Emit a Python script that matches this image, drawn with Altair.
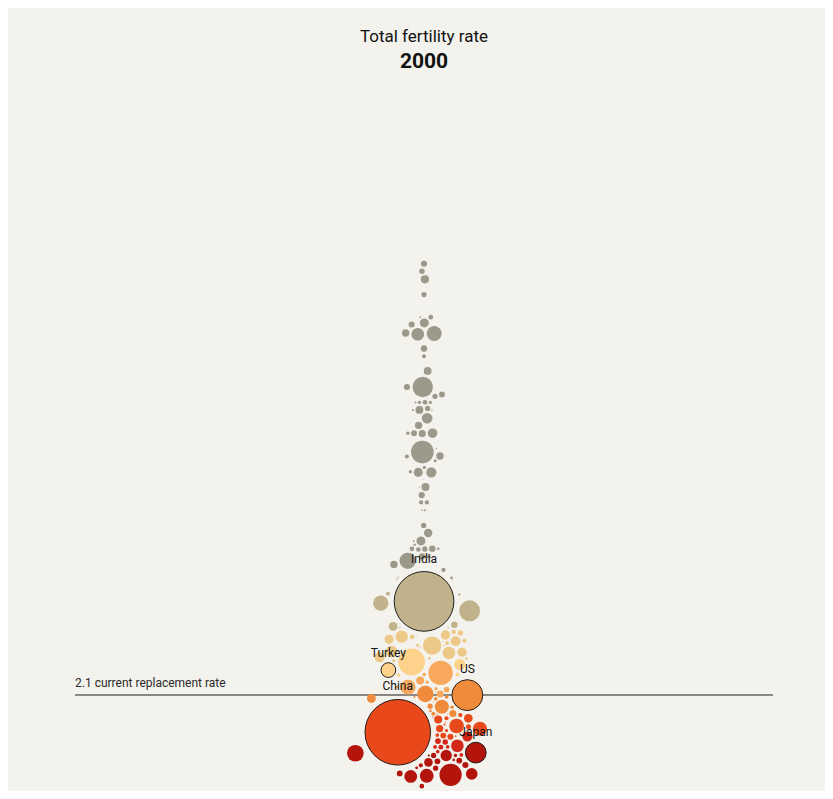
import math
import numpy as np
import pandas as pd
import altair as alt

# ---------------- data (approximate 2000 values) ----------------
countries = [
    "China", "India", "Indonesia", "Pakistan", "Bangladesh", "Japan", "Philippines", "Vietnam",
    "Thailand", "Myanmar", "South Korea", "North Korea", "Afghanistan", "Nepal", "Sri Lanka",
    "Malaysia", "Uzbekistan", "Kazakhstan", "Iran", "Iraq", "Saudi Arabia", "Yemen", "Syria",
    "Turkey", "Cambodia", "Laos", "Mongolia", "Taiwan", "Hong Kong", "Singapore", "Israel",
    "Jordan", "Lebanon", "Kuwait", "UAE", "Oman", "Qatar", "Bahrain", "Tajikistan", "Kyrgyzstan",
    "Turkmenistan", "Azerbaijan", "Georgia", "Armenia", "Bhutan", "Timor-Leste", "Palestine",
    "Maldives", "Brunei",
    "Nigeria", "Ethiopia", "Egypt", "DR Congo", "South Africa", "Tanzania", "Sudan", "Kenya",
    "Algeria", "Morocco", "Uganda", "Ghana", "Mozambique", "Madagascar", "Cote d'Ivoire",
    "Cameroon", "Angola", "Burkina Faso", "Niger", "Mali", "Malawi", "Zambia", "Zimbabwe",
    "Senegal", "Chad", "Somalia", "Guinea", "Rwanda", "Tunisia", "Burundi", "Benin", "Togo",
    "Sierra Leone", "Libya", "Eritrea", "Central African Rep.", "Liberia", "Mauritania", "Congo",
    "Namibia", "Botswana", "Lesotho", "Gambia", "Guinea-Bissau", "Gabon", "Mauritius", "Eswatini",
    "Equatorial Guinea", "Djibouti", "Comoros", "Cape Verde", "Sao Tome", "Seychelles",
    "Russia", "Germany", "Britain", "France", "Italy", "Ukraine", "Spain", "Poland", "Romania",
    "Netherlands", "Greece", "Belgium", "Czechia", "Portugal", "Hungary", "Belarus", "Sweden",
    "Serbia", "Austria", "Bulgaria", "Switzerland", "Denmark", "Slovakia", "Finland", "Norway",
    "Ireland", "Croatia", "Bosnia", "Moldova", "Lithuania", "Albania", "Latvia", "North Macedonia",
    "Slovenia", "Estonia", "Cyprus", "Luxembourg", "Malta", "Iceland", "Montenegro",
    "US", "Brazil", "Mexico", "Colombia", "Argentina", "Canada", "Peru", "Venezuela", "Chile",
    "Ecuador", "Guatemala", "Cuba", "Haiti", "Dominican Rep.", "Bolivia", "Honduras",
    "El Salvador", "Paraguay", "Nicaragua", "Costa Rica", "Uruguay", "Puerto Rico", "Panama",
    "Jamaica", "Trinidad", "Guyana", "Suriname", "Belize", "Bahamas", "Barbados",
    "Australia", "Papua New Guinea", "New Zealand", "Fiji", "Solomon Islands", "Vanuatu", "Samoa",
]

population_m = [
    1270, 1053, 211, 152, 129, 127, 78, 80,
    63, 46, 47, 23, 20, 24, 19,
    23, 25, 15, 66, 24, 21, 18, 16,
    64, 12, 5.3, 2.4, 22, 6.7, 4.0, 6.3,
    5.0, 3.8, 2.0, 3.1, 2.3, 0.6, 0.7, 6.2, 4.9,
    4.5, 8.0, 4.4, 3.1, 0.6, 0.9, 3.2,
    0.3, 0.33,
    122, 66, 68, 47, 45, 34, 27, 31,
    31, 29, 24, 19, 18, 16, 16,
    15, 16, 12, 11, 11, 11, 10, 12,
    10, 8.0, 9.0, 8.5, 8.0, 9.7, 6.5, 6.9, 5.0,
    4.6, 5.3, 3.4, 3.8, 2.9, 2.7, 3.1,
    1.8, 1.7, 1.9, 1.2, 1.2, 1.2, 1.2, 1.0,
    0.6, 0.7, 0.5, 0.45, 0.14, 0.08,
    146, 82, 59, 59, 57, 49, 40, 38, 22,
    16, 11, 10, 10, 10, 10, 10, 8.9,
    7.5, 8.0, 8.2, 7.2, 5.3, 5.4, 5.2, 4.5,
    3.8, 4.4, 3.8, 4.2, 3.5, 3.1, 2.4, 2.0,
    2.0, 1.4, 0.9, 0.44, 0.39, 0.28, 0.6,
    282, 175, 99, 40, 37, 31, 26, 24, 15,
    12.6, 11.6, 11.1, 8.5, 8.5, 8.4, 6.5,
    5.9, 5.3, 5.1, 3.9, 3.3, 3.8, 3.0,
    2.6, 1.3, 0.75, 0.47, 0.25, 0.3, 0.27,
    19, 5.4, 3.9, 0.81, 0.41, 0.19, 0.17,
]

tfr = [
    1.62, 3.31, 2.50, 5.25, 3.20, 1.36, 3.80, 2.00,
    1.70, 2.60, 1.47, 2.00, 7.50, 4.10, 2.20,
    3.00, 2.60, 1.80, 2.20, 5.00, 4.20, 6.30, 3.80,
    2.45, 3.90, 4.60, 2.20, 1.68, 1.00, 1.50, 2.90,
    3.90, 2.30, 2.60, 2.60, 3.60, 3.00, 2.70, 4.00, 2.40,
    2.80, 2.00, 1.60, 1.65, 3.60, 7.00, 5.00,
    2.80, 2.30,
    6.10, 6.80, 3.30, 6.80, 2.90, 5.70, 5.50, 5.00,
    2.60, 2.70, 6.90, 4.80, 5.80, 5.60, 5.20,
    5.50, 6.80, 6.60, 7.70, 6.90, 6.10, 6.00, 4.00,
    5.50, 7.30, 7.60, 6.00, 5.80, 2.10, 7.00, 5.90, 5.20,
    6.50, 2.80, 5.90, 5.50, 5.90, 5.20, 5.10,
    4.00, 3.40, 4.00, 5.90, 5.80, 4.50, 2.00, 4.10,
    5.80, 4.50, 5.30, 3.60, 4.90, 2.10,
    1.20, 1.38, 1.64, 1.89, 1.26, 1.12, 1.22, 1.37, 1.30,
    1.72, 1.26, 1.67, 1.14, 1.55, 1.32, 1.30, 1.54,
    1.60, 1.36, 1.26, 1.50, 1.77, 1.30, 1.73, 1.85,
    1.90, 1.40, 1.40, 1.50, 1.39, 2.20, 1.25, 1.90,
    1.26, 1.36, 1.64, 1.76, 1.70, 2.08, 1.85,
    2.05, 2.36, 2.72, 2.60, 2.50, 1.50, 2.90, 2.80, 2.10,
    3.00, 4.70, 1.60, 4.30, 2.80, 4.00, 4.00,
    2.90, 3.70, 3.30, 2.40, 2.20, 1.90, 2.70,
    2.60, 1.70, 2.70, 2.90, 3.60, 2.10, 1.80,
    1.76, 4.60, 1.98, 3.00, 4.80, 4.50, 4.60,
]

labelled = ["India", "China", "Turkey", "US", "Japan"]
replacement_rate = 2.1
color_breaks = [1.4, 1.6, 1.8, 2.1, 2.4, 2.6, 3.0, 3.5]
color_range = ["#b3150d", "#d3261a", "#e8481a", "#f08b3c", "#f7a85c",
               "#fdd28b", "#eec886", "#c0b38b", "#9b9989"]

# ---------------- layout (beeswarm packing, computed) ----------------
W, H = 817, 783
PX_PER_UNIT = 77.0
LINE_Y = 687.0
CENTER_X = 416.0
MAX_R = 37.0
MAX_POP = max(population_m)

pop = np.array(population_m, dtype=float)
f = np.array(tfr, dtype=float)
n = len(pop)
r = MAX_R * np.sqrt(pop / MAX_POP)
ty = -(f - replacement_rate) * PX_PER_UNIT
idx = np.arange(n)
x = (((idx * 17) % 23) - 11) * 0.8
y = ty.copy() + (((idx * 13) % 7) - 3) * 0.2
pad = 0.9


def collide(x, y, strength):
    dx = x[:, None] - x[None, :]
    dy = y[:, None] - y[None, :]
    d = np.sqrt(dx * dx + dy * dy)
    np.fill_diagonal(d, np.inf)
    d = np.maximum(d, 1e-6)
    R = r[:, None] + r[None, :] + pad
    ov = R - d
    m = ov > 0
    w = (r[None, :] ** 2 + 0.01) / (r[:, None] ** 2 + r[None, :] ** 2 + 0.02)
    fac = np.where(m, ov / d * w * strength, 0.0)
    return x + (fac * dx).sum(1), y + (fac * dy).sum(1)


for it in range(900):
    x += (0.0 - x) * 0.012
    y += (ty - y) * 0.25
    for _ in range(2):
        x, y = collide(x, y, 0.5)
for _ in range(200):
    x, y = collide(x, y, 0.5)

df = pd.DataFrame({
    "country": countries,
    "pop": population_m,
    "tfr": tfr,
    "xoff": x,
    "ypos": replacement_rate - y / PX_PER_UNIT,
})
df["label_y"] = df["ypos"] + (r + 2.0) / PX_PER_UNIT
df["is_label"] = df["country"].isin(labelled)
df = df.sort_values("pop", ascending=False)

xscale = alt.Scale(domain=[-CENTER_X, W - CENTER_X], nice=False, zero=False)
yscale = alt.Scale(domain=[replacement_rate - (H - LINE_Y) / PX_PER_UNIT,
                           replacement_rate + LINE_Y / PX_PER_UNIT], nice=False, zero=False)
X = lambda field: alt.X(field, type="quantitative", scale=xscale, axis=None)
Y = lambda field: alt.Y(field, type="quantitative", scale=yscale, axis=None)

size_enc = alt.Size("pop:Q", scale=alt.Scale(domain=[0, MAX_POP], range=[0, math.pi * MAX_R ** 2]),
                    legend=None)
color_enc = alt.Color("tfr:Q", scale=alt.Scale(type="threshold", domain=color_breaks, range=color_range),
                      legend=None)

FONT = "Roboto"

rule_df = pd.DataFrame({"x": [-349.0], "x2": [349.0], "y": [replacement_rate],
                        "text": ["2.1 current replacement rate"]})

rule = alt.Chart(rule_df).mark_rule(color="#1e1e1e", strokeWidth=1.2).encode(
    x=X("x"), x2="x2", y=Y("y"))
rule_text = alt.Chart(rule_df).mark_text(
    align="left", baseline="bottom", dy=-5, font=FONT, fontSize=12, color="#2a2a2a"
).encode(x=X("x"), y=Y("y"), text="text:N")

circles = alt.Chart(df).mark_circle(opacity=1).encode(
    x=X("xoff"), y=Y("ypos"), size=size_enc, color=color_enc)
circles_lab = alt.Chart(df[df["is_label"]]).mark_circle(
    opacity=1, stroke="#222222", strokeWidth=1).encode(
    x=X("xoff"), y=Y("ypos"), size=size_enc, color=color_enc)
labels = alt.Chart(df[df["is_label"]]).mark_text(
    align="center", baseline="bottom", font=FONT, fontSize=12, color="#111111"
).encode(x=X("xoff"), y=Y("label_y"), text="country:N")

title1 = alt.Chart(pd.DataFrame({"t": ["Total fertility rate"]})).mark_text(
    align="center", baseline="middle", font=FONT, fontSize=17, color="#111111"
).encode(x=alt.value(CENTER_X), y=alt.value(29), text="t:N")
title2 = alt.Chart(pd.DataFrame({"t": ["2000"]})).mark_text(
    align="center", baseline="middle", font=FONT, fontSize=21, fontWeight="bold", color="#111111"
).encode(x=alt.value(CENTER_X), y=alt.value(54), text="t:N")

chart = alt.layer(rule, rule_text, circles, circles_lab, labels, title1, title2).properties(
    width=W, height=H, background="#f4f2ed", padding=0,
    autosize=alt.AutoSizeParams(type="none"),
).configure_view(stroke=None)

chart.save("out.html", embed_options={"renderer": "svg", "actions": False})
